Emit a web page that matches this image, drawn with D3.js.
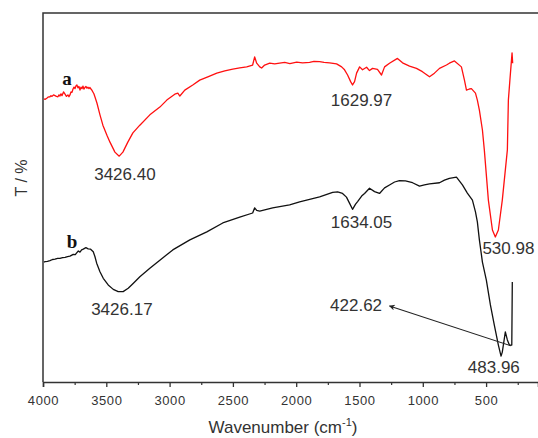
<!DOCTYPE html>
<html>
<head>
<meta charset="utf-8">
<script src="https://cdn.jsdelivr.net/npm/d3@7"></script>
<style>
  html, body { margin: 0; padding: 0; background: #fff; }
  svg { display: block; }
</style>
</head>
<body>
<svg id="chart" width="538" height="438"></svg>
<script>
// ---- data (wavenumber cm^-1, transmittance in arbitrary %) ----
const curveA = [
  [3992,76.7],[3984,76.6],[3970,76.9],[3961,77.2],[3945,77.3],[3937,77.6],[3929,77.4],[3917,77.8],[3905,77.6],[3894,77.4],
  [3882,77.3],[3874,77.8],[3866,77.5],[3858,78.1],[3850,77.6],[3838,78.6],[3826,78.0],[3815,77.4],[3803,77.8],[3795,77.3],
  [3787,77.8],[3779,78.6],[3771,78.5],[3763,79.4],[3755,79.9],[3747,79.5],[3740,80.2],[3732,80.5],[3724,79.7],[3716,80.1],
  [3708,79.1],[3700,79.9],[3692,79.5],[3684,80.2],[3677,79.4],[3669,79.8],[3661,80.1],[3653,79.6],[3645,79.9],[3637,79.5],
  [3629,79.8],[3621,79.4],[3614,79.1],[3606,78.6],[3598,78.1],[3590,77.3],
  [3574,75.6],[3550,72.4],[3527,69.6],[3495,66.9],[3471,65.0],[3432,62.3],[3398,61.2],[3369,62.3],[3330,65.0],[3290,67.5],
  [3235,69.6],[3156,72.4],[3077,74.5],[3022,76.4],[2959,78.0],[2935,78.3],[2919,77.5],[2880,79.1],[2817,80.5],[2762,81.8],
  [2698,82.7],[2627,83.7],[2564,84.3],[2501,84.8],[2446,85.1],[2391,85.4],[2344,85.9],[2328,88.1],[2312,86.4],[2288,85.4],
  [2273,85.1],[2249,85.9],[2209,86.4],[2170,86.2],[2131,86.4],[2090,86.6],[2050,86.3],[1996,86.7],[1950,86.5],[1894,86.6],
  [1860,86.9],[1815,86.8],[1780,86.6],[1736,86.5],[1681,86.2],[1641,85.4],[1618,84.6],[1594,83.2],[1570,81.4],[1555,80.5],
  [1539,81.4],[1523,83.7],[1499,85.4],[1476,84.6],[1444,85.3],[1421,84.4],[1397,85.0],[1358,84.7],[1326,83.2],[1302,85.4],
  [1263,86.4],[1200,87.7],[1160,86.5],[1105,85.6],[1050,85.0],[1003,84.1],[947,82.7],[908,83.7],[868,85.0],[813,85.9],
  [790,86.4],[750,87.0],[695,85.4],[671,81.8],[655,79.1],[632,79.4],[616,79.5],[600,78.9],[584,78.3],[569,76.4],
  [553,73.7],[529,68.3],[514,62.9],[482,49.3],[450,41.2],[427,39.3],[403,41.2],[372,49.3],[332,62.9],[324,76.4],
  [312,81.8],[295,89.2],[290,86.4]
];
const curveB = [
  [3992,32.5],[3984,32.6],[3965,32.7],[3945,32.9],[3925,33.2],[3905,33.3],[3885,33.5],[3866,33.5],[3845,33.7],[3826,33.8],
  [3806,34.0],[3787,34.1],[3761,34.6],[3745,34.5],[3734,35.0],[3721,35.5],[3708,35.2],[3695,35.8],[3682,36.0],[3661,36.4],
  [3643,36.1],[3624,36.0],[3603,35.3],[3590,34.0],[3576,32.2],[3550,29.9],[3524,28.1],[3485,26.3],[3445,25.1],[3406,24.5],
  [3367,24.5],[3327,25.4],[3288,26.7],[3235,28.5],[3156,30.8],[3077,33.0],[2975,35.8],[2840,38.5],[2706,40.7],[2580,43.1],
  [2446,44.7],[2344,45.8],[2328,47.2],[2312,46.5],[2288,46.3],[2241,46.7],[2186,47.2],[2052,48.0],[1973,48.8],[1894,49.5],
  [1815,50.2],[1712,51.4],[1673,51.5],[1634,51.1],[1603,50.1],[1578,48.4],[1555,46.8],[1531,48.2],[1515,48.9],[1483,50.4],
  [1460,51.1],[1421,52.5],[1381,51.6],[1342,51.1],[1302,52.6],[1263,53.4],[1223,54.2],[1184,54.6],[1137,54.5],[1081,54.0],
  [1026,53.1],[987,53.4],[947,53.7],[868,54.0],[829,54.7],[790,55.2],[734,55.5],[687,53.4],[648,51.2],[608,49.3],
  [584,46.1],[569,43.4],[553,38.5],[529,32.5],[498,27.6],[466,20.9],[435,15.4],[403,10.0],[382,7.0],[372,8.1],
  [348,13.6],[332,11.4],[316,10.0],[297,10.0],[293,27.1]
];
const majorTicks = [4000, 3500, 3000, 2500, 2000, 1500, 1000, 500];
const minorTicks = [3750, 3250, 2750, 2250, 1750, 1250, 750, 250];
// peak labels: [text, wavenumber position, T position (baseline)]
const peakLabels = [
  ["3426.40", 3353, 54.7],
  ["1629.97", 1484, 74.8],
  ["1634.05", 1484, 41.7],
  ["530.98", 324, 34.7],
  ["422.62", 1527, 19.2],
  ["3426.17", 3377, 18.2],
  ["483.96", 439, 2.4]
];
const seriesLabels = [["a", 3811, 80.5], ["b", 3771, 36.3]];
// arrow from the 422.62 band to its label: [wn, T]
const arrowFrom = [303, 9.8];
const arrowTo = [1263, 20.6];

// ---- chart ----
const svg = d3.select("#chart");
const x = d3.scaleLinear().domain([4000, 90]).range([43, 538]);
const y = d3.scaleLinear().domain([0, 100]).range([382, 13]);
const axisColor = "#333";

svg.append("defs").append("marker")
  .attr("id", "arrowhead").attr("viewBox", "0 0 10 10")
  .attr("refX", 9).attr("refY", 5)
  .attr("markerWidth", 9).attr("markerHeight", 6)
  .attr("markerUnits", "userSpaceOnUse")
  .attr("orient", "auto")
  .append("path").attr("d", "M0,0 L10,5 L0,10 L3,5 Z").attr("fill", "#222");

// frame: top and left lines
svg.append("path")
  .attr("d", `M${x.range()[1]},${y.range()[1]} H${x.range()[0]} V${y.range()[0]}`)
  .attr("fill", "none").attr("stroke", axisColor).attr("stroke-width", 1.5);

// bottom axis
const gx = svg.append("g").attr("transform", `translate(0,${y.range()[0]})`)
  .call(d3.axisBottom(x).tickValues(majorTicks).tickSize(5).tickPadding(9).tickFormat(d3.format("d")));
gx.select(".domain").attr("stroke", axisColor).attr("stroke-width", 1.5);
gx.selectAll(".tick line").attr("stroke", axisColor).attr("stroke-width", 1.3);
gx.selectAll(".tick text")
  .attr("font-family", "'Liberation Sans', Arial, sans-serif")
  .attr("font-size", 13).attr("letter-spacing", 0.6).attr("fill", "#333");

const gm = svg.append("g").attr("transform", `translate(0,${y.range()[0]})`)
  .call(d3.axisBottom(x).tickValues(minorTicks).tickSize(3).tickFormat(""));
gm.select(".domain").remove();
gm.selectAll(".tick line").attr("stroke", axisColor).attr("stroke-width", 1.2);

// axis titles
const xt = svg.append("text")
  .attr("x", 283).attr("y", 433)
  .attr("text-anchor", "middle")
  .attr("font-family", "'Liberation Sans', Arial, sans-serif")
  .attr("font-size", 17).attr("fill", "#333");
xt.append("tspan").text("Wavenumber (cm");
xt.append("tspan").attr("dy", -7).attr("font-size", 11).text("-1");
xt.append("tspan").attr("dy", 7).text(")");

svg.append("text")
  .attr("transform", "translate(27,178) rotate(-90)")
  .attr("text-anchor", "middle")
  .attr("font-family", "'Liberation Sans', Arial, sans-serif")
  .attr("font-size", 16).attr("fill", "#333")
  .text("T / %");

// curves
const line = d3.line().x(d => x(d[0])).y(d => y(d[1]));
svg.append("path").datum(curveA)
  .attr("d", line).attr("fill", "none").attr("stroke", "#ff1010").attr("stroke-width", 1.3)
  .attr("stroke-linejoin", "round");
svg.append("path").datum(curveB)
  .attr("d", line).attr("fill", "none").attr("stroke", "#111").attr("stroke-width", 1.3)
  .attr("stroke-linejoin", "round");

// arrow
svg.append("line")
  .attr("x1", x(arrowFrom[0])).attr("y1", y(arrowFrom[1]))
  .attr("x2", x(arrowTo[0])).attr("y2", y(arrowTo[1]))
  .attr("stroke", "#222").attr("stroke-width", 1.1)
  .attr("marker-end", "url(#arrowhead)");

// peak labels
svg.selectAll("text.peak").data(peakLabels).join("text")
  .attr("class", "peak")
  .attr("x", d => x(d[1])).attr("y", d => y(d[2]))
  .attr("text-anchor", "middle")
  .attr("font-family", "'Liberation Sans', Arial, sans-serif")
  .attr("font-size", 17).attr("fill", "#333")
  .text(d => d[0]);

// series labels
svg.selectAll("text.series").data(seriesLabels).join("text")
  .attr("class", "series")
  .attr("x", d => x(d[1])).attr("y", d => y(d[2]))
  .attr("text-anchor", "middle")
  .attr("font-family", "'Liberation Serif', 'Times New Roman', serif")
  .attr("font-size", 19).attr("font-weight", "bold").attr("fill", "#111")
  .text(d => d[0]);
</script>
</body>
</html>
